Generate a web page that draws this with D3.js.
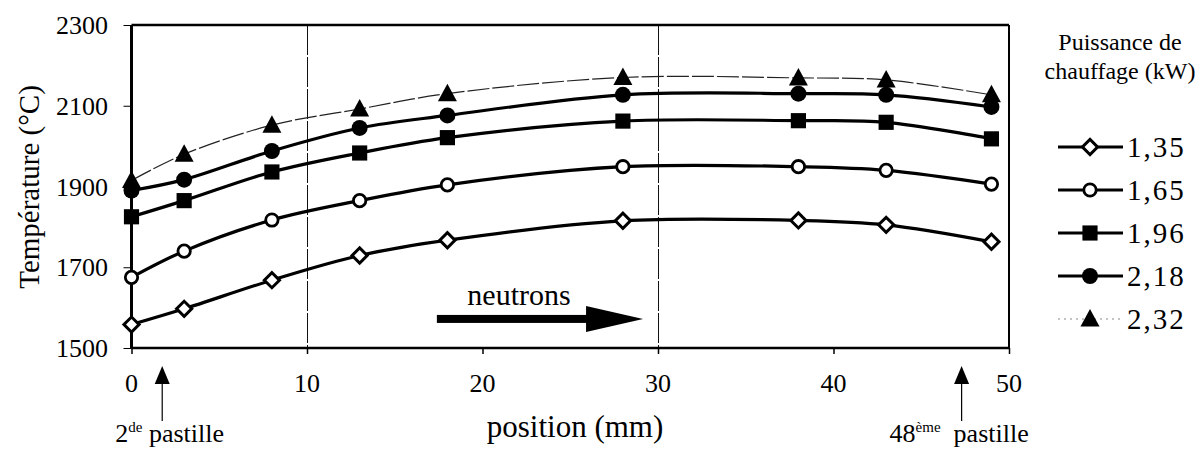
<!DOCTYPE html>
<html>
<head>
<meta charset="utf-8">
<script src="https://cdn.jsdelivr.net/npm/d3@7"></script>
<style>
  body { margin: 0; background: #fff; }
  svg { display: block; }
  text { font-family: "Liberation Serif", "DejaVu Serif", serif; fill: #000; }
</style>
</head>
<body>
<svg id="chart" width="1201" height="449"></svg>
<script>
// positions des mesures (mm)
const positions = [0, 3, 8, 13, 18, 28, 38, 43, 49];

// températures (°C) par puissance de chauffage
const t135 = [1558, 1597, 1668, 1729, 1767, 1815, 1816, 1805, 1763];
const t165 = [1675, 1740, 1817, 1865, 1904, 1949, 1949, 1940, 1906];
const t196 = [1825, 1865, 1936, 1983, 2021, 2062, 2063, 2059, 2018];
const t218 = [1890, 1917, 1988, 2045, 2076, 2127, 2130, 2127, 2097];
const t232 = [1915, 1980, 2052, 2092, 2130, 2170, 2169, 2164, 2127];

const powerLabels = ['1,35', '1,65', '1,96', '2,18', '2,32'];
const xTicks = [0, 10, 20, 30, 40, 50];
const yTicks = [1500, 1700, 1900, 2100, 2300];
const gridX = [10, 30];

const svg = d3.select('#chart');

const x = d3.scaleLinear().domain([0, 50]).range([131.5, 1009]);
const y = d3.scaleLinear().domain([1500, 2300]).range([348, 25]);

const series = [
  { name: powerLabels[0], values: t135, marker: 'diamond', thin: false },
  { name: powerLabels[1], values: t165, marker: 'circleOpen', thin: false },
  { name: powerLabels[2], values: t196, marker: 'square', thin: false },
  { name: powerLabels[3], values: t218, marker: 'circle', thin: false },
  { name: powerLabels[4], values: t232, marker: 'triangle', thin: true }
];

// vertical grid lines
svg.append('g')
  .selectAll('line')
  .data(gridX)
  .enter()
  .append('line')
  .attr('x1', d => Math.round(x(d)) + 0.5).attr('x2', d => Math.round(x(d)) + 0.5)
  .attr('y1', y(2300)).attr('y2', y(1500))
  .attr('stroke', '#111')
  .attr('stroke-width', 1)
  .attr('stroke-dasharray', '30,2');

// axes
svg.append('g')
  .attr('transform', `translate(0, ${y(1500)})`)
  .call(d3.axisBottom(x).tickValues(xTicks).tickSize(6).tickFormat(''))
  .call(g => g.select('.domain').remove())
  .call(g => g.selectAll('line').attr('stroke', '#000').attr('stroke-width', 1.5));

svg.append('g')
  .attr('transform', `translate(${x(0)}, 0)`)
  .call(d3.axisLeft(y).tickValues(yTicks).tickSize(8).tickFormat(''))
  .call(g => g.select('.domain').remove())
  .call(g => g.selectAll('line').attr('stroke', '#000').attr('stroke-width', 1));

// frame
svg.append('line').attr('x1', x(0)).attr('x2', x(50)).attr('y1', y(2300)).attr('y2', y(2300))
  .attr('stroke', '#000').attr('stroke-width', 2.5);
svg.append('line').attr('x1', x(50)).attr('x2', x(50)).attr('y1', y(2300)).attr('y2', y(1500))
  .attr('stroke', '#000').attr('stroke-width', 2);
svg.append('line').attr('x1', x(0)).attr('x2', x(50)).attr('y1', y(1500)).attr('y2', y(1500))
  .attr('stroke', '#000').attr('stroke-width', 2.5);
svg.append('line').attr('x1', x(0)).attr('x2', x(0)).attr('y1', y(2300)).attr('y2', y(1500))
  .attr('stroke', '#000').attr('stroke-width', 3);

// tick labels
svg.append('g').selectAll('text')
  .data(xTicks).enter().append('text')
  .attr('x', d => x(d))
  .attr('y', 392)
  .attr('text-anchor', 'middle')
  .style('font-size', '26px')
  .text(d => d);

svg.append('g').selectAll('text')
  .data(yTicks).enter().append('text')
  .attr('x', 108)
  .attr('y', d => y(d) + 9)
  .attr('text-anchor', 'end')
  .style('font-size', '26px')
  .text(d => d);

// axis titles
svg.append('text')
  .attr('transform', `translate(39, 187) rotate(-90)`)
  .attr('text-anchor', 'middle')
  .style('font-size', '29px')
  .text('Température (°C)');

svg.append('text')
  .attr('x', 575)
  .attr('y', 437)
  .attr('text-anchor', 'middle')
  .style('font-size', '31px')
  .text('position (mm)');

// markers
function drawMarker(g, type, cx, cy) {
  if (type === 'diamond') {
    g.append('path')
      .attr('d', d3.symbol(d3.symbolSquare, 115)())
      .attr('transform', `translate(${cx},${cy}) rotate(45)`)
      .attr('fill', '#fff').attr('stroke', '#000').attr('stroke-width', 3);
  } else if (type === 'circleOpen') {
    g.append('circle').attr('cx', cx).attr('cy', cy).attr('r', 6.2)
      .attr('fill', '#fff').attr('stroke', '#000').attr('stroke-width', 2.8);
  } else if (type === 'square') {
    g.append('path')
      .attr('d', d3.symbol(d3.symbolSquare, 230)())
      .attr('transform', `translate(${cx},${cy})`)
      .attr('fill', '#000');
  } else if (type === 'circle') {
    g.append('circle').attr('cx', cx).attr('cy', cy).attr('r', 8)
      .attr('fill', '#000');
  } else if (type === 'triangle') {
    g.append('path')
      .attr('d', 'M0,-10L9.5,7.5L-9.5,7.5Z')
      .attr('transform', `translate(${cx},${cy})`)
      .attr('fill', '#000');
  }
}

const line = d3.line()
  .x((d, i) => x(positions[i]))
  .y(d => y(d))
  .curve(d3.curveCatmullRom.alpha(0.5));

series.forEach(s => {
  svg.append('path')
    .datum(s.values)
    .attr('d', line)
    .attr('fill', 'none')
    .attr('stroke', s.thin ? '#222' : '#000')
    .attr('stroke-width', s.thin ? 1.2 : 3.2)
    .attr('stroke-dasharray', s.thin ? '22,3' : null);
});

series.forEach(s => {
  const g = svg.append('g');
  s.values.forEach((v, i) => drawMarker(g, s.marker, x(positions[i]), y(v)));
});

// legend
const legend = svg.append('g');
legend.append('text')
  .attr('x', 1120).attr('y', 50)
  .attr('text-anchor', 'middle')
  .style('font-size', '24px')
  .text('Puissance de');
legend.append('text')
  .attr('x', 1120).attr('y', 79)
  .attr('text-anchor', 'middle')
  .style('font-size', '24px')
  .text('chauffage (kW)');

series.forEach((s, i) => {
  const ly = 147 + i * 43;
  legend.append('line')
    .attr('x1', 1058).attr('x2', 1123)
    .attr('y1', ly).attr('y2', ly)
    .attr('stroke', s.thin ? '#888' : '#000')
    .attr('stroke-width', s.thin ? 1 : 3)
    .attr('stroke-dasharray', s.thin ? '2,4' : null);
  drawMarker(legend, s.marker, 1090, ly);
  legend.append('text')
    .attr('x', 1127).attr('y', ly + 10)
    .style('font-size', '29px')
    .style('letter-spacing', '2px')
    .text(s.name);
});

// neutron direction arrow
const arrow = svg.append('g');
arrow.append('text')
  .attr('x', 519).attr('y', 305)
  .attr('text-anchor', 'middle')
  .style('font-size', '30px')
  .text('neutrons');
const ay = y(1572);
arrow.append('rect')
  .attr('x', x(17.4)).attr('y', ay - 4)
  .attr('width', x(26.0) - x(17.4)).attr('height', 8)
  .attr('fill', '#000');
arrow.append('path')
  .attr('d', `M${x(25.9)},${ay - 13}L${x(29.15)},${ay}L${x(25.9)},${ay + 13}Z`)
  .attr('fill', '#000');

// pellet markers under the axis
const pellets = [
  { pos: 1.75, num: '2', sup: 'de', dx: -47, gap: ' ' },
  { pos: 47.3, num: '48', sup: 'ème', dx: -72, gap: '  ' }
];
pellets.forEach(p => {
  const px = x(p.pos);
  svg.append('line')
    .attr('x1', px).attr('x2', px)
    .attr('y1', 380).attr('y2', 421)
    .attr('stroke', '#000').attr('stroke-width', 1.2);
  svg.append('path')
    .attr('d', `M${px},366L${px + 7.5},384L${px - 7.5},384Z`)
    .attr('fill', '#000');
  const t = svg.append('text')
    .attr('x', px + p.dx).attr('y', 442)
    .style('font-size', '26px')
    .attr('xml:space', 'preserve');
  t.append('tspan').text(p.num);
  t.append('tspan').attr('dy', -10).style('font-size', '15px').text(p.sup);
  t.append('tspan').attr('dy', 10).text(p.gap + 'pastille');
});
</script>
</body>
</html>
